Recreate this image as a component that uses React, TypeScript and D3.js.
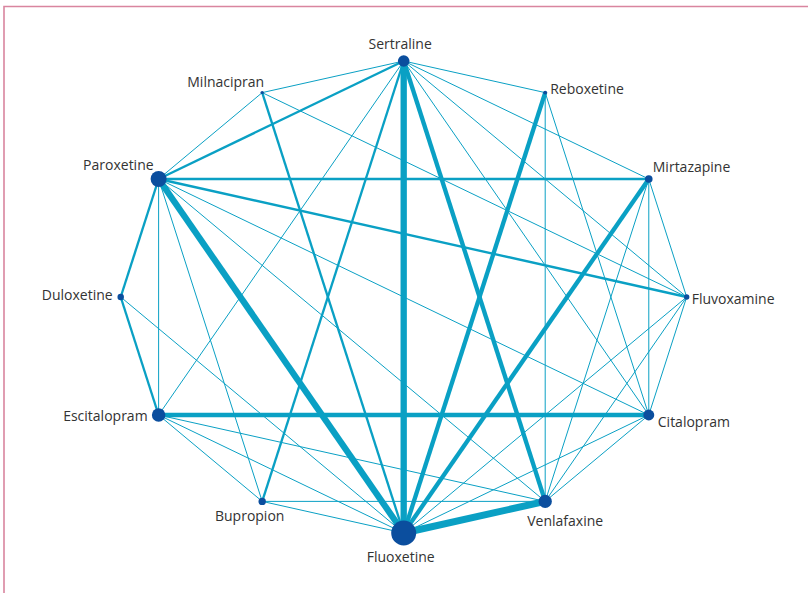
import React from "react";
import * as d3 from "d3";

// Nodes in clockwise order starting at the top
const drugs = [
  "Sertraline", "Reboxetine", "Mirtazapine", "Fluvoxamine", "Citalopram", "Venlafaxine",
  "Fluoxetine", "Bupropion", "Escitalopram", "Duloxetine", "Paroxetine", "Milnacipran",
];
// relative sample size per drug (node area)
const patients = [26, 3, 11, 5.5, 23, 34, 120, 10.5, 35, 8, 49, 2.2];

// comparisons: [a, b, number of trials]
const comparisons: [string, string, number][] = [
  ["Sertraline", "Milnacipran", 1],
  ["Sertraline", "Reboxetine", 1],
  ["Sertraline", "Mirtazapine", 1],
  ["Sertraline", "Fluvoxamine", 1],
  ["Sertraline", "Citalopram", 1],
  ["Sertraline", "Venlafaxine", 6],
  ["Sertraline", "Fluoxetine", 9],
  ["Sertraline", "Bupropion", 3],
  ["Sertraline", "Escitalopram", 1],
  ["Sertraline", "Paroxetine", 3],
  ["Milnacipran", "Paroxetine", 1],
  ["Milnacipran", "Fluoxetine", 3],
  ["Milnacipran", "Fluvoxamine", 1],
  ["Reboxetine", "Fluoxetine", 6],
  ["Reboxetine", "Venlafaxine", 1],
  ["Reboxetine", "Citalopram", 1],
  ["Paroxetine", "Mirtazapine", 3],
  ["Paroxetine", "Fluvoxamine", 3],
  ["Paroxetine", "Citalopram", 1],
  ["Paroxetine", "Venlafaxine", 1],
  ["Paroxetine", "Fluoxetine", 9],
  ["Paroxetine", "Bupropion", 1],
  ["Paroxetine", "Escitalopram", 1],
  ["Paroxetine", "Duloxetine", 3],
  ["Mirtazapine", "Fluoxetine", 6],
  ["Mirtazapine", "Venlafaxine", 1],
  ["Mirtazapine", "Citalopram", 1],
  ["Mirtazapine", "Fluvoxamine", 1],
  ["Duloxetine", "Escitalopram", 3],
  ["Duloxetine", "Fluoxetine", 1],
  ["Fluvoxamine", "Citalopram", 1],
  ["Fluvoxamine", "Fluoxetine", 1],
  ["Fluvoxamine", "Venlafaxine", 1],
  ["Escitalopram", "Citalopram", 6],
  ["Escitalopram", "Venlafaxine", 1],
  ["Escitalopram", "Fluoxetine", 1],
  ["Escitalopram", "Bupropion", 1],
  ["Citalopram", "Venlafaxine", 1],
  ["Citalopram", "Fluoxetine", 1],
  ["Bupropion", "Fluoxetine", 1],
  ["Bupropion", "Venlafaxine", 1],
  ["Fluoxetine", "Venlafaxine", 10],
];

// label layout: [dx, dy, anchor]
const labelLayout: Record<string, [number, number, string]> = {
  Sertraline: [-3.5, -12, "middle"],
  Reboxetine: [5, 1, "start"],
  Mirtazapine: [4, -7, "start"],
  Fluvoxamine: [5, 7, "start"],
  Citalopram: [9, 12, "start"],
  Venlafaxine: [20, 25, "middle"],
  Fluoxetine: [-3, 29, "middle"],
  Bupropion: [-12.5, 20, "middle"],
  Escitalopram: [-11, 5.5, "end"],
  Duloxetine: [-8, 3, "end"],
  Paroxetine: [-5, -9, "end"],
  Milnacipran: [2, -6, "end"],
};

const W = 808;
const H = 593;
const EDGE = "#0aa0c4";
const NODE = "#0b4e9e";

export default function App() {
  const angle = d3
    .scaleLinear()
    .domain([0, drugs.length])
    .range([0, 2 * Math.PI]);
  const sx = d3.scaleLinear().domain([-1, 1]).range([403.7 - 283, 403.7 + 283]);
  const sy = d3.scaleLinear().domain([-1, 1]).range([297 - 236, 297 + 236]);
  const pos: Record<string, [number, number]> = {};
  drugs.forEach((d, i) => {
    const a = angle(i);
    pos[d] = [sx(Math.sin(a)), sy(-Math.cos(a))];
  });
  const r = d3.scaleSqrt().domain([0, 120]).range([0, 12.5]);
  const w = d3.scaleLinear().domain([1, 10]).range([1, 7]);

  const sorted = [...comparisons].sort((a, b) => a[2] - b[2]);

  return (
    <svg
      width={W}
      height={H}
      style={{ position: "absolute", left: 0, top: 0, background: "#fff" }}
    >
      <path d={`M4,${H} L4,6.5 L${W},6.5`} fill="none" stroke="#d9859f" strokeWidth={1.6} />
      <g>
        {sorted.map(([a, b, n], i) => (
          <line
            key={i}
            x1={pos[a][0]}
            y1={pos[a][1]}
            x2={pos[b][0]}
            y2={pos[b][1]}
            stroke={EDGE}
            strokeWidth={w(n)}
          />
        ))}
      </g>
      <g>
        {drugs.map((d, i) => (
          <circle key={d} cx={pos[d][0]} cy={pos[d][1]} r={r(patients[i])} fill={NODE} />
        ))}
      </g>
      <g fontFamily="'Open Sans', sans-serif" fontSize={14} fill="#333">
        {drugs.map((d) => {
          const [dx, dy, anchor] = labelLayout[d];
          return (
            <text key={d} x={pos[d][0] + dx} y={pos[d][1] + dy} textAnchor={anchor as any}>
              {d}
            </text>
          );
        })}
      </g>
    </svg>
  );
}
